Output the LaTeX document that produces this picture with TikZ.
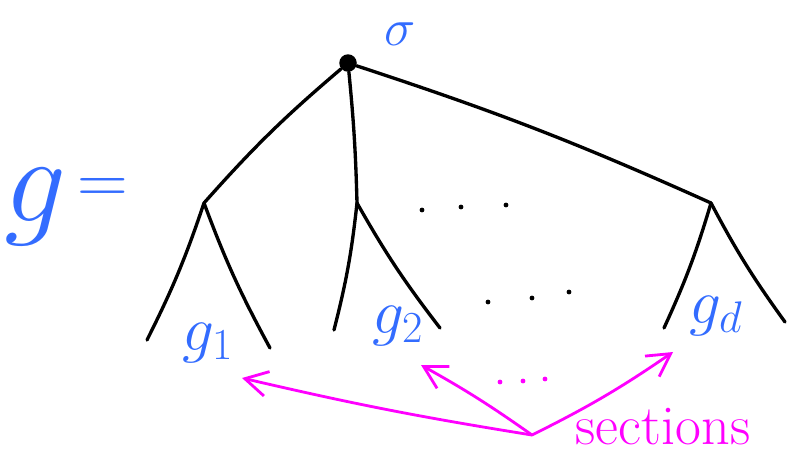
\RequirePackage{fix-cm}
\documentclass[tikz,border=0pt]{standalone}
\usetikzlibrary{arrows.meta}

\definecolor{tinta}{RGB}{51,108,255}
\definecolor{marca}{RGB}{255,0,255}

\tikzset{
  rama/.style={line width=1.9pt, line cap=round, line join=round},
  etiqueta/.style={text=tinta, inner sep=0pt},
  flecha/.style={marca, line width=1.6pt, line cap=round, -{Straight Barb[length=4.5mm, width=5mm]}},
}

\begin{document}
\begin{tikzpicture}[x=0.02cm, y=-0.02cm]
\useasboundingbox (0,0) rectangle (787,461);

% Raiz y primer nivel
\node[circle, fill, minimum size=3.5mm, inner sep=0pt] (R) at (348,63) {};
\node[etiqueta] (s) at (400,34) {\fontsize{30}{30}\selectfont$\sigma$};

\coordinate (c1) at (204,203);
\coordinate (c2) at (357,203);
\coordinate (c3) at (711,203);

\draw[rama] (R) to[bend right=4] (c1);
\draw[rama] (R) to[bend left=2] (c2);
\draw[rama] (R) to[bend left=3] (c3);

% Hojas
\coordinate (h11) at (147,340);
\coordinate (h12) at (270,348);
\coordinate (h21) at (334,330);
\coordinate (h22) at (440,328);
\coordinate (h31) at (664,328);
\coordinate (h32) at (785,322);

\foreach \c/\a/\b in {c1/h11/h12, c2/h21/h22, c3/h31/h32} {
	\draw[rama] (\c) to[bend left=4] (\a);
	\draw[rama] (\c) to[bend right=4] (\b);
}

% Puntos suspensivos
\foreach \x/\y in {422/210, 461/207, 506/205} {
	\fill (\x,\y) circle (2.4);
}
\foreach \x/\y in {488/302, 532/298, 569/292} {
	\fill (\x,\y) circle (2.4);
}
\foreach \x/\y in {500/382, 523/381, 545/379} {
	\fill[marca] (\x,\y) circle (2.4);
}

% Etiquetas
\node[etiqueta] (g) at (36,207) {\fontsize{70}{70}\selectfont$g$};
\node[etiqueta] (eq) at (103,191) {\fontsize{40}{40}\selectfont$=$};
\node[etiqueta] (g1) at (208,343) {\fontsize{36}{36}\selectfont$g_1$};
\node[etiqueta] (g2) at (398,326) {\fontsize{36}{36}\selectfont$g_2$};
\node[etiqueta] (gd) at (716,316) {\fontsize{36}{36}\selectfont$g_d$};

% Secciones
\node[marca, inner sep=0pt] (sec) at (663,427) {\fontsize{32}{32}\selectfont sections};
\coordinate (S) at (532,435);
\coordinate (t1) at (242,378);
\coordinate (t2) at (421,365);
\coordinate (t3) at (673,352);

\draw[flecha] (S) to[bend left=2] (t1);
\draw[flecha] (S) to[bend right=3] (t2);
\draw[flecha] (S) to[bend right=4] (t3);
\end{tikzpicture}
\end{document}
